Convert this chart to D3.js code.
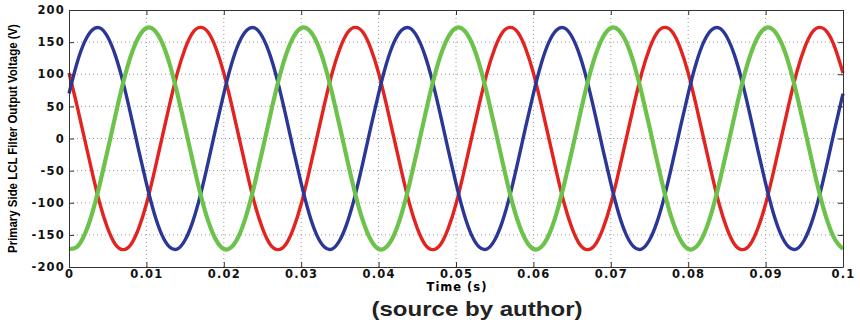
<!DOCTYPE html>
<html>
<head>
<meta charset="utf-8">
<script src="https://cdn.jsdelivr.net/npm/d3@7"></script>
<style>
  body { margin: 0; background: #fff; }
  svg { display: block; }
  .tick text { font-family: "DejaVu Sans", sans-serif; font-weight: bold; font-size: 11.5px; letter-spacing: 1.2px; fill: #111; }
</style>
</head>
<body>
<div id="chart"></div>
<script>
// sampling grid: one value every millisecond from 0 to 0.1 s
var tStep = 0.001;

// phase voltages (V)
var redV = [
  102, 53, 0, -53, -102, -140, -165, -173, -165, -140, -102, -53, 0, 53, 102, 140, 165, 173, 165, 140,
  102, 53, 0, -53, -102, -140, -165, -173, -165, -140, -102, -53, 0, 53, 102, 140, 165, 173, 165, 140,
  102, 53, 0, -53, -102, -140, -165, -173, -165, -140, -102, -53, 0, 53, 102, 140, 165, 173, 165, 140,
  102, 53, 0, -53, -102, -140, -165, -173, -165, -140, -102, -53, 0, 53, 102, 140, 165, 173, 165, 140,
  102, 53, 0, -53, -102, -140, -165, -173, -165, -140, -102, -53, 0, 53, 102, 140, 165, 173, 165, 140,
  102
];
var blueV = [
  70, 116, 150, 169, 172, 158, 129, 87, 36, -18, -70, -116, -150, -169, -172, -158, -129, -87, -36, 18,
  70, 116, 150, 169, 172, 158, 129, 87, 36, -18, -70, -116, -150, -169, -172, -158, -129, -87, -36, 18,
  70, 116, 150, 169, 172, 158, 129, 87, 36, -18, -70, -116, -150, -169, -172, -158, -129, -87, -36, 18,
  70, 116, 150, 169, 172, 158, 129, 87, 36, -18, -70, -116, -150, -169, -172, -158, -129, -87, -36, 18,
  70, 116, 150, 169, 172, 158, 129, 87, 36, -18, -70, -116, -150, -169, -172, -158, -129, -87, -36, 18,
  70
];
var greenV = [
  -172, -169, -150, -116, -70, -18, 36, 87, 129, 158, 172, 169, 150, 116, 70, 18, -36, -87, -129, -158,
  -172, -169, -150, -116, -70, -18, 36, 87, 129, 158, 172, 169, 150, 116, 70, 18, -36, -87, -129, -158,
  -172, -169, -150, -116, -70, -18, 36, 87, 129, 158, 172, 169, 150, 116, 70, 18, -36, -87, -129, -158,
  -172, -169, -150, -116, -70, -18, 36, 87, 129, 158, 172, 169, 150, 116, 70, 18, -36, -87, -129, -158,
  -172, -169, -150, -116, -70, -18, 36, 87, 129, 158, 172, 169, 150, 116, 70, 18, -36, -87, -129, -158,
  -172
];

var xTicks = [0, 0.01, 0.02, 0.03, 0.04, 0.05, 0.06, 0.07, 0.08, 0.09, 0.1];
var yTicks = [-200, -150, -100, -50, 0, 50, 100, 150, 200];

var series = [
  { name: "red", values: redV, color: "#e2231f", w: 3.4 },
  { name: "blue", values: blueV, color: "#2b3796", w: 3.4 },
  { name: "green", values: greenV, color: "#6cc24a", w: 4.2 }
];

var width = 860, height = 331;
var margin = { top: 10, right: 17, bottom: 64, left: 69 };
var w = width - margin.left - margin.right;
var h = height - margin.top - margin.bottom;

var svg = d3.select("#chart").append("svg")
  .attr("width", width)
  .attr("height", height);

var g = svg.append("g")
  .attr("transform", "translate(" + margin.left + "," + margin.top + ")");

var x = d3.scaleLinear().domain([0, 0.1]).range([0, w]);
var y = d3.scaleLinear().domain([-200, 200]).range([h, 0]);

// dotted grid
g.append("g").selectAll("line.gx")
  .data(xTicks.slice(1, -1))
  .enter().append("line")
  .attr("x1", function (d) { return x(d); })
  .attr("x2", function (d) { return x(d); })
  .attr("y1", 0).attr("y2", h)
  .attr("stroke", "#9a9a9a").attr("stroke-width", 1)
  .attr("stroke-dasharray", "1,3");
g.append("g").selectAll("line.gy")
  .data(yTicks.slice(1, -1))
  .enter().append("line")
  .attr("x1", 0).attr("x2", w)
  .attr("y1", function (d) { return y(d); })
  .attr("y2", function (d) { return y(d); })
  .attr("stroke", "#9a9a9a").attr("stroke-width", 1)
  .attr("stroke-dasharray", "1,3");

// waveforms
var line = d3.line()
  .x(function (d, i) { return x(i * tStep); })
  .y(function (d) { return y(d); })
  .curve(d3.curveNatural);

g.append("g").selectAll("path")
  .data(series)
  .enter().append("path")
  .attr("fill", "none")
  .attr("stroke", function (d) { return d.color; })
  .attr("stroke-width", function (d) { return d.w; })
  .attr("stroke-linejoin", "round")
  .attr("d", function (d) { return line(d.values); });

// axes, ticks pointing inward like matlab
var fmt = function (d) { return String(d); };

g.append("g")
  .attr("transform", "translate(0," + h + ")")
  .call(d3.axisBottom(x).tickValues(xTicks).tickFormat(fmt).tickSize(-5).tickSizeOuter(0).tickPadding(3));
g.append("g")
  .call(d3.axisLeft(y).tickValues(yTicks).tickFormat(fmt).tickSize(-5).tickSizeOuter(0).tickPadding(4));
g.append("g")
  .call(d3.axisTop(x).tickValues(xTicks).tickFormat("").tickSize(-5).tickSizeOuter(0));
g.append("g")
  .attr("transform", "translate(" + w + ",0)")
  .call(d3.axisRight(y).tickValues(yTicks).tickFormat("").tickSize(-5).tickSizeOuter(0));

g.selectAll(".domain").attr("stroke", "#333");
g.selectAll(".tick line").attr("stroke", "#333");

// labels
g.append("text")
  .attr("x", w / 2 + 1)
  .attr("y", h + 24)
  .attr("text-anchor", "middle")
  .style("font-family", "DejaVu Sans, sans-serif")
  .style("font-weight", "bold")
  .style("font-size", "11.5px")
  .style("letter-spacing", "1px")
  .text("Time (s)");

// y label: squeeze horizontally to the reference length
var yLab = svg.append("text")
  .attr("text-anchor", "middle")
  .style("font-family", "Liberation Sans, Arial, sans-serif")
  .style("font-weight", "bold")
  .style("font-size", "13px")
  .text("Primary Side LCL Filter Output Voltage (V)");
var k = 229 / yLab.node().getComputedTextLength();
yLab.attr("transform", "translate(17," + (margin.top + h / 2) + ") rotate(-90) scale(" + k + ",1)");

svg.append("text")
  .attr("x", 477)
  .attr("y", 316)
  .attr("text-anchor", "middle")
  .attr("textLength", 211)
  .attr("lengthAdjust", "spacingAndGlyphs")
  .style("font-family", "Liberation Sans, Arial, sans-serif")
  .style("font-weight", "bold")
  .style("font-size", "21px")
  .style("fill", "#222")
  .text("(source by author)");
</script>
</body>
</html>
